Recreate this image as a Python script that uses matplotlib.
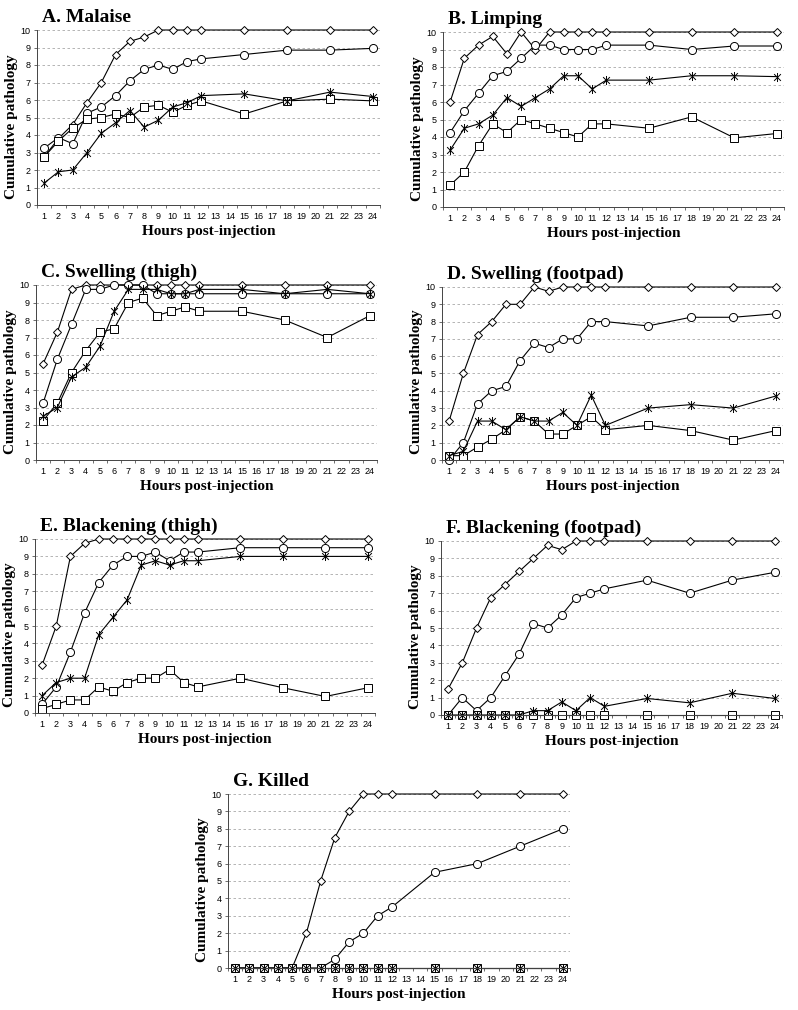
#!/usr/bin/env python3
"""Cumulative pathology after injection, seven panels (A-G)."""

import matplotlib
matplotlib.use('Agg')
import matplotlib.pyplot as plt
from matplotlib.path import Path

W, H = 798, 1010

hours = [1, 2, 3, 4, 5, 6, 7, 8, 9, 10, 11, 12, 15, 18, 21, 24]

# A. Malaise
malaise_diamond = [2.75, 3.8, 4.6, 5.85, 7.0, 8.6, 9.35, 9.6, 10, 10, 10, 10, 10, 10, 10, 10]
malaise_circle = [3.25, 3.85, 3.5, 5.25, 5.6, 6.25, 7.1, 7.75, 8.0, 7.75, 8.2, 8.35, 8.6, 8.85, 8.85, 8.95]
malaise_star = [1.25, 1.9, 2.0, 3.0, 4.1, 4.7, 5.4, 4.45, 4.85, 5.6, 5.85, 6.25, 6.35, 5.95, 6.45, 6.2]
malaise_square = [2.75, 3.65, 4.4, 4.9, 5.0, 5.2, 5.0, 5.6, 5.7, 5.3, 5.7, 5.95, 5.2, 5.95, 6.05, 5.95]

# B. Limping
limping_diamond = [6.0, 8.5, 9.25, 9.75, 8.75, 10, 9.0, 10, 10, 10, 10, 10, 10, 10, 10, 10]
limping_circle = [4.25, 5.5, 6.5, 7.5, 7.75, 8.5, 9.25, 9.25, 9.0, 9.0, 9.0, 9.25, 9.25, 9.0, 9.2, 9.2]
limping_star = [3.25, 4.5, 4.75, 5.25, 6.25, 5.75, 6.25, 6.75, 7.5, 7.5, 6.75, 7.25, 7.25, 7.5, 7.5, 7.45]
limping_square = [1.25, 2.0, 3.5, 4.75, 4.25, 5.0, 4.75, 4.5, 4.25, 4.0, 4.75, 4.75, 4.5, 5.15, 3.95, 4.2]

# C. Swelling (thigh)
sw_thigh_diamond = [5.5, 7.3, 9.75, 10, 10, 10, 10, 10, 10, 10, 10, 10, 10, 10, 10, 10]
sw_thigh_circle = [3.25, 5.75, 7.75, 9.75, 9.75, 10, 10, 10, 9.5, 9.5, 9.5, 9.5, 9.5, 9.5, 9.5, 9.5]
sw_thigh_star = [2.5, 3.0, 4.75, 5.3, 6.5, 8.5, 9.75, 9.75, 9.75, 9.5, 9.5, 9.75, 9.75, 9.5, 9.75, 9.5]
sw_thigh_square = [2.25, 3.25, 5.0, 6.25, 7.3, 7.5, 9.0, 9.25, 8.25, 8.5, 8.75, 8.5, 8.5, 8.0, 7.0, 8.25]

# D. Swelling (footpad)
sw_foot_diamond = [2.25, 5.0, 7.25, 8.0, 9.0, 9.0, 10, 9.75, 10, 10, 10, 10, 10, 10, 10, 10]
sw_foot_circle = [0.0, 1.0, 3.25, 4.0, 4.25, 5.75, 6.75, 6.5, 7.0, 7.0, 8.0, 8.0, 7.75, 8.25, 8.25, 8.45]
sw_foot_star = [0.25, 0.5, 2.25, 2.25, 1.75, 2.5, 2.25, 2.25, 2.75, 2.0, 3.75, 2.0, 3.0, 3.2, 3.0, 3.7]
sw_foot_square = [0.25, 0.25, 0.75, 1.2, 1.75, 2.5, 2.25, 1.5, 1.5, 2.0, 2.5, 1.75, 2.0, 1.7, 1.15, 1.7]

# E. Blackening (thigh)
bl_thigh_diamond = [2.75, 5.0, 9.0, 9.75, 10, 10, 10, 10, 10, 10, 10, 10, 10, 10, 10, 10]
bl_thigh_circle = [0.5, 1.5, 3.5, 5.75, 7.5, 8.5, 9.0, 9.0, 9.25, 8.75, 9.25, 9.25, 9.5, 9.5, 9.5, 9.5]
bl_thigh_star = [1.0, 1.75, 2.0, 2.0, 4.5, 5.5, 6.5, 8.5, 8.75, 8.5, 8.75, 8.75, 9.0, 9.0, 9.0, 9.0]
bl_thigh_square = [0.25, 0.5, 0.75, 0.75, 1.5, 1.25, 1.75, 2.0, 2.0, 2.5, 1.75, 1.5, 2.0, 1.45, 0.95, 1.45]

# F. Blackening (footpad)
bl_foot_diamond = [1.5, 3.0, 5.0, 6.75, 7.5, 8.25, 9.0, 9.75, 9.5, 10, 10, 10, 10, 10, 10, 10]
bl_foot_circle = [0.0, 1.0, 0.25, 1.0, 2.25, 3.5, 5.25, 5.0, 5.75, 6.75, 7.0, 7.25, 7.75, 7.0, 7.75, 8.2]
bl_foot_star = [0, 0, 0, 0, 0, 0, 0.25, 0.25, 0.75, 0.25, 1.0, 0.5, 0.95, 0.7, 1.25, 0.95]
bl_foot_square = [0, 0, 0, 0, 0, 0, 0, 0, 0, 0, 0, 0, 0, 0, 0, 0]

# G. Killed
killed_diamond = [0, 0, 0, 0, 0, 2.0, 5.0, 7.5, 9.0, 10, 10, 10, 10, 10, 10, 10]
killed_circle = [0, 0, 0, 0, 0, 0, 0, 0.5, 1.5, 2.0, 3.0, 3.5, 5.5, 6.0, 7.0, 8.0]
killed_star = [0, 0, 0, 0, 0, 0, 0, 0, 0, 0, 0, 0, 0, 0, 0, 0]
killed_square = [0, 0, 0, 0, 0, 0, 0, 0, 0, 0, 0, 0, 0, 0, 0, 0]

titles = ['A. Malaise', 'B. Limping', 'C. Swelling (thigh)', 'D. Swelling (footpad)',
          'E. Blackening (thigh)', 'F. Blackening (footpad)', 'G. Killed']

panels = [
    (malaise_diamond, malaise_circle, malaise_star, malaise_square),
    (limping_diamond, limping_circle, limping_star, limping_square),
    (sw_thigh_diamond, sw_thigh_circle, sw_thigh_star, sw_thigh_square),
    (sw_foot_diamond, sw_foot_circle, sw_foot_star, sw_foot_square),
    (bl_thigh_diamond, bl_thigh_circle, bl_thigh_star, bl_thigh_square),
    (bl_foot_diamond, bl_foot_circle, bl_foot_star, bl_foot_square),
    (killed_diamond, killed_circle, killed_star, killed_square),
]

# axes boxes in pixels: left, right, top, bottom
boxes = [
    (37, 380, 30, 205),
    (443, 784, 32, 207),
    (36, 377, 285, 460),
    (442, 783, 287, 460),
    (35, 375, 539, 713),
    (441, 782, 541, 715),
    (228, 570, 794, 968),
]

# Excel-style asterisk: vertical bar plus an X
ASTERISK = Path(
    [(0, -1), (0, 1), (-0.75, -0.75), (0.75, 0.75), (-0.75, 0.75), (0.75, -0.75)],
    [Path.MOVETO, Path.LINETO] * 3,
)

SERIF = 'Liberation Serif'
SANS = 'Liberation Sans'


def draw_panel(ax, series, title):
    diamond, circle, star, square = series
    line_kw = dict(color='black', linewidth=0.8, markeredgecolor='black',
                   markeredgewidth=0.7, clip_on=False)
    ax.plot(hours, diamond, marker='D', markersize=4.2, markerfacecolor='white', **line_kw)
    ax.plot(hours, circle, marker='o', markersize=5.8, markerfacecolor='white', **line_kw)
    ax.plot(hours, square, marker='s', markersize=5.2, markerfacecolor='white', **line_kw)
    ax.plot(hours, star, marker=ASTERISK, markersize=6.5, markerfacecolor='none', **line_kw)

    ax.set_xlim(0.5, 24.5)
    ax.set_ylim(0, 10)
    ax.set_xticks(range(1, 25))
    ax.set_xticks([h + 0.5 for h in range(0, 25)], minor=True)
    ax.set_yticks(range(0, 11))
    ax.tick_params(axis='x', which='major', length=0, pad=5, labelsize=6.5)
    ax.tick_params(axis='x', which='minor', length=2.5, width=0.6, color='#555555')
    ax.tick_params(axis='y', length=2.5, width=0.6, pad=2, labelsize=6.5, color='#555555')
    for lbl in ax.get_xticklabels() + ax.get_yticklabels():
        lbl.set_family(SANS)

    for y in range(1, 11):
        ax.axhline(y, color='#a8a8a8', linewidth=0.6, linestyle=(0, (3, 3)), zorder=0)

    for side in ['top', 'right']:
        ax.spines[side].set_visible(False)
    for side in ['left', 'bottom']:
        ax.spines[side].set_linewidth(0.7)
        ax.spines[side].set_color('#444444')

    ax.set_xlabel('Hours post-injection', family=SERIF, fontweight='bold', fontsize=11, labelpad=3)
    ax.set_ylabel('Cumulative pathology', family=SERIF, fontweight='bold', fontsize=11)
    ax.yaxis.set_label_coords(-0.056, 0.45)
    ax.text(0.015, 1.045, title, transform=ax.transAxes, family=SERIF, fontweight='bold',
            fontsize=14, va='baseline', ha='left')


def main():
    fig = plt.figure(figsize=(W / 100, H / 100), dpi=100)
    for (left, right, top, bottom), series, title in zip(boxes, panels, titles):
        ax = fig.add_axes([left / W, 1 - bottom / H, (right - left) / W, (bottom - top) / H])
        draw_panel(ax, series, title)
    fig.savefig('out.png', dpi=100)


if __name__ == '__main__':
    main()
